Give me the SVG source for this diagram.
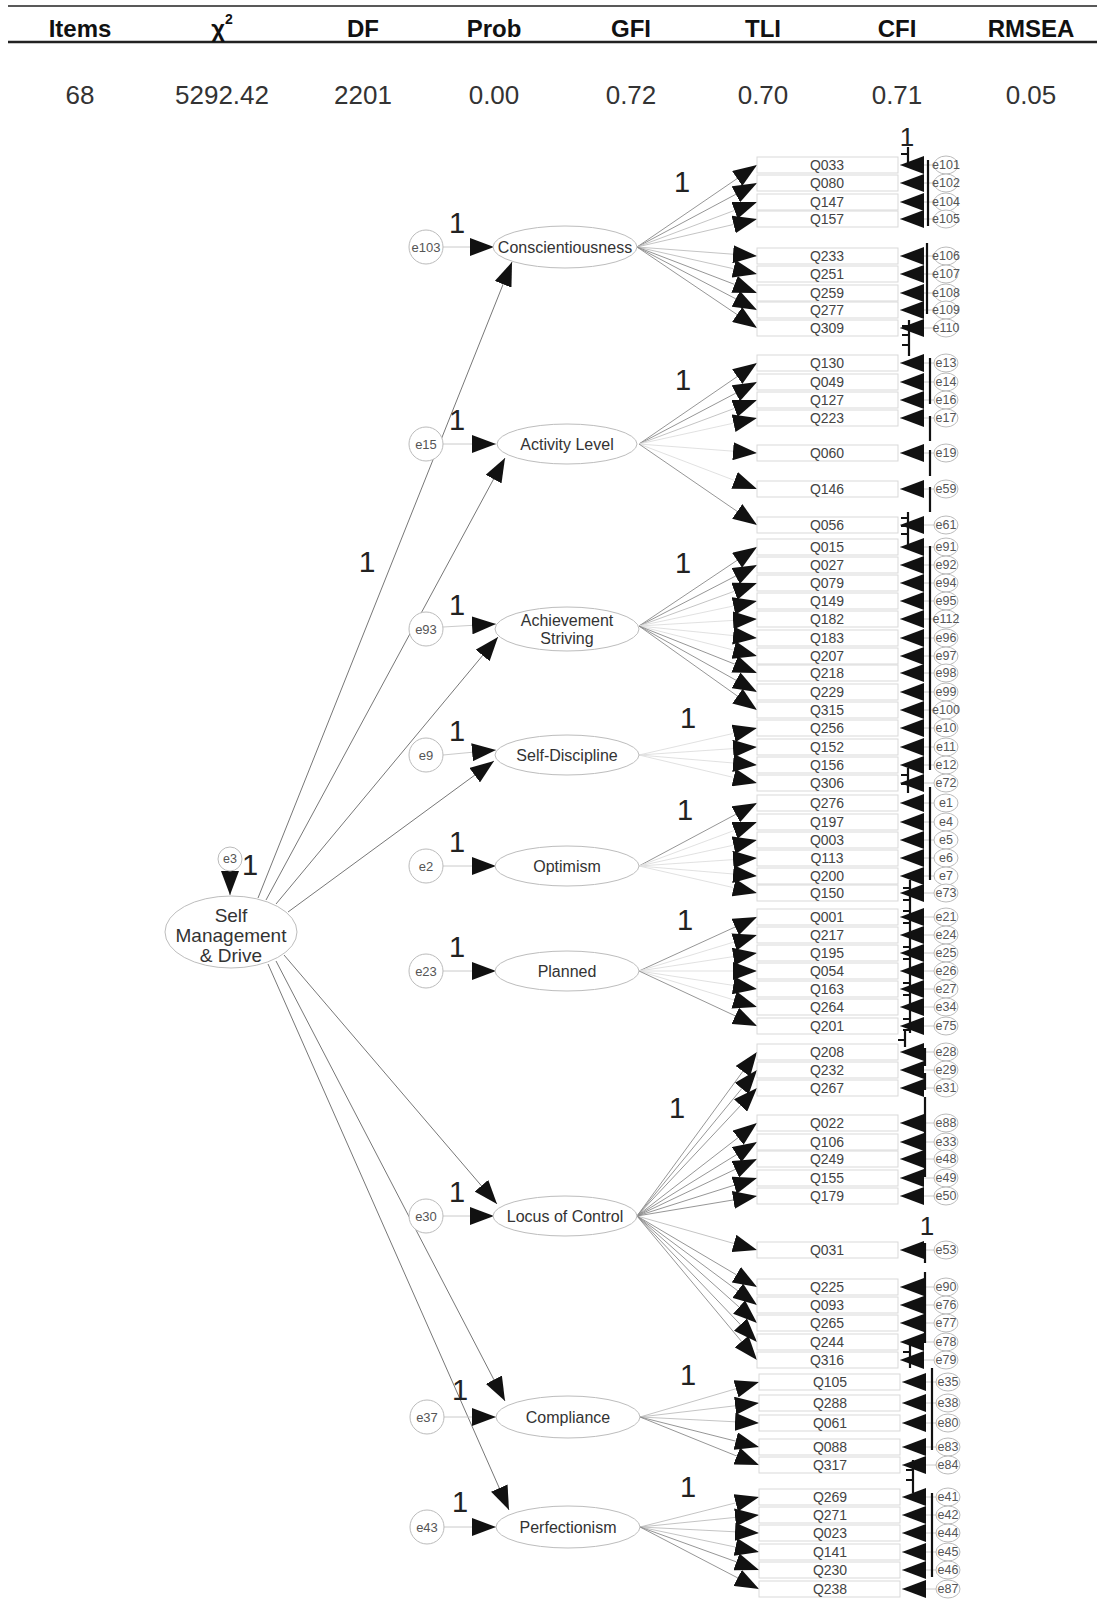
<svg xmlns="http://www.w3.org/2000/svg" width="1106" height="1619" viewBox="0 0 1106 1619">
<defs>
<style>
text{font-family:"Liberation Sans",Arial,sans-serif}
.hdr{font-weight:bold;font-size:24px;fill:#111;text-anchor:middle}
.val{font-size:26px;fill:#333;text-anchor:middle}
.q{font-size:14px;fill:#444;text-anchor:middle}
.el{font-size:12.5px;fill:#555;text-anchor:middle}
.fel{font-size:13px;fill:#555;text-anchor:middle}
.fl{font-size:16px;fill:#333;text-anchor:middle}
.one{font-size:29px;fill:#222;text-anchor:middle}
.obs rect{fill:none;stroke:#d9d9d9;stroke-width:1}
.lat ellipse{fill:#fff;stroke:#bdbdbd;stroke-width:1}
.err ellipse,.err circle{fill:#fff;stroke:#bbb;stroke-width:1}
.p{stroke:#777;stroke-width:1;fill:none}
.ld{stroke:#8a8a8a;stroke-width:0.9}
.lm{stroke:#bdbdbd;stroke-width:0.9}
.lf{stroke:#dedede;stroke-width:0.9}
.er{stroke:#c4c4c4;stroke-width:0.9}
.cov{stroke:#111;stroke-width:2.2;fill:none}
</style>
<marker id="ah" markerUnits="userSpaceOnUse" markerWidth="26" markerHeight="18" refX="24" refY="9" orient="auto"><path d="M0,0 L24,9 L0,18 z" fill="#111"/></marker>
<marker id="ahb" markerUnits="userSpaceOnUse" markerWidth="26" markerHeight="18" refX="24" refY="9" orient="auto"><path d="M0,0 L24,9 L0,18 z" fill="#111"/></marker>
</defs>
<rect width="1106" height="1619" fill="#fff"/>

<g id="fit-table">
<line x1="8" y1="6" x2="1097" y2="6" stroke="#222" stroke-width="1.6"/>
<line x1="8" y1="42" x2="1097" y2="42" stroke="#222" stroke-width="2.6"/>
<text class="hdr" x="80" y="37">Items</text>
<text class="hdr" x="222" y="37">χ<tspan font-size="14" dy="-13">2</tspan></text>
<text class="hdr" x="363" y="37">DF</text>
<text class="hdr" x="494" y="37">Prob</text>
<text class="hdr" x="631" y="37">GFI</text>
<text class="hdr" x="763" y="37">TLI</text>
<text class="hdr" x="897" y="37">CFI</text>
<text class="hdr" x="1031" y="37">RMSEA</text>
<text class="val" x="80" y="104">68</text>
<text class="val" x="222" y="104">5292.42</text>
<text class="val" x="363" y="104">2201</text>
<text class="val" x="494" y="104">0.00</text>
<text class="val" x="631" y="104">0.72</text>
<text class="val" x="763" y="104">0.70</text>
<text class="val" x="897" y="104">0.71</text>
<text class="val" x="1031" y="104">0.05</text>
</g>

<g id="connectors">
<!-- second-order paths -->
<line class="p" x1="258" y1="898" x2="512" y2="262" marker-end="url(#ahb)"/>
<line class="p" x1="266" y1="900" x2="505" y2="458" marker-end="url(#ahb)"/>
<line class="p" x1="276" y1="904" x2="498" y2="637" marker-end="url(#ahb)"/>
<line class="p" x1="288" y1="912" x2="494" y2="761" marker-end="url(#ahb)"/>
<line class="p" x1="284" y1="955" x2="497" y2="1204" marker-end="url(#ahb)"/>
<line class="p" x1="276" y1="961" x2="505" y2="1401" marker-end="url(#ahb)"/>
<line class="p" x1="268" y1="964" x2="509" y2="1510" marker-end="url(#ahb)"/>
<line class="p" x1="230" y1="871" x2="230" y2="895" marker-end="url(#ahb)"/>
<!-- disturbance paths -->
<line class="er" x1="443" y1="247" x2="494" y2="247" marker-end="url(#ahb)"/>
<line class="er" x1="443" y1="444" x2="496" y2="444" marker-end="url(#ahb)"/>
<line class="er" x1="443" y1="627" x2="496" y2="624" marker-end="url(#ahb)"/>
<line class="er" x1="443" y1="755" x2="496" y2="750" marker-end="url(#ahb)"/>
<line class="er" x1="443" y1="866" x2="496" y2="866" marker-end="url(#ahb)"/>
<line class="er" x1="443" y1="971" x2="496" y2="971" marker-end="url(#ahb)"/>
<line class="er" x1="443" y1="1216" x2="494" y2="1216" marker-end="url(#ahb)"/>
<line class="er" x1="444" y1="1417" x2="496" y2="1417" marker-end="url(#ahb)"/>
<line class="er" x1="444" y1="1527" x2="496" y2="1527" marker-end="url(#ahb)"/>
<!-- loadings: Conscientiousness -->
<line class="ld" x1="637" y1="247" x2="757" y2="165" marker-end="url(#ah)"/>
<line class="ld" x1="637" y1="247" x2="757" y2="183" marker-end="url(#ah)"/>
<line class="lm" x1="637" y1="247" x2="757" y2="202" marker-end="url(#ah)"/>
<line class="lm" x1="637" y1="247" x2="757" y2="219" marker-end="url(#ah)"/>
<line class="lm" x1="637" y1="247" x2="757" y2="256" marker-end="url(#ah)"/>
<line class="lm" x1="637" y1="247" x2="757" y2="274" marker-end="url(#ah)"/>
<line class="ld" x1="637" y1="247" x2="757" y2="293" marker-end="url(#ah)"/>
<line class="ld" x1="637" y1="247" x2="757" y2="310" marker-end="url(#ah)"/>
<line class="ld" x1="637" y1="247" x2="757" y2="328" marker-end="url(#ah)"/>
<!-- Activity Level -->
<line class="ld" x1="639" y1="444" x2="757" y2="363" marker-end="url(#ah)"/>
<line class="ld" x1="639" y1="444" x2="757" y2="382" marker-end="url(#ah)"/>
<line class="lm" x1="639" y1="444" x2="757" y2="400" marker-end="url(#ah)"/>
<line class="lf" x1="639" y1="444" x2="757" y2="418" marker-end="url(#ah)"/>
<line class="lf" x1="639" y1="444" x2="757" y2="453" marker-end="url(#ah)"/>
<line class="lf" x1="639" y1="444" x2="757" y2="489" marker-end="url(#ah)"/>
<line class="ld" x1="639" y1="444" x2="757" y2="525" marker-end="url(#ah)"/>
<!-- Achievement Striving -->
<line class="ld" x1="639" y1="626" x2="757" y2="547" marker-end="url(#ah)"/>
<line class="ld" x1="639" y1="626" x2="757" y2="565" marker-end="url(#ah)"/>
<line class="lm" x1="639" y1="626" x2="757" y2="583" marker-end="url(#ah)"/>
<line class="lf" x1="639" y1="626" x2="757" y2="601" marker-end="url(#ah)"/>
<line class="lf" x1="639" y1="626" x2="757" y2="619" marker-end="url(#ah)"/>
<line class="lf" x1="639" y1="626" x2="757" y2="638" marker-end="url(#ah)"/>
<line class="lf" x1="639" y1="626" x2="757" y2="656" marker-end="url(#ah)"/>
<line class="ld" x1="639" y1="626" x2="757" y2="673" marker-end="url(#ah)"/>
<line class="ld" x1="639" y1="626" x2="757" y2="692" marker-end="url(#ah)"/>
<line class="ld" x1="639" y1="626" x2="757" y2="710" marker-end="url(#ah)"/>
<!-- Self-Discipline -->
<line class="lf" x1="639" y1="755" x2="757" y2="728" marker-end="url(#ah)"/>
<line class="lf" x1="639" y1="755" x2="757" y2="747" marker-end="url(#ah)"/>
<line class="lf" x1="639" y1="755" x2="757" y2="765" marker-end="url(#ah)"/>
<line class="lf" x1="639" y1="755" x2="757" y2="783" marker-end="url(#ah)"/>
<!-- Optimism -->
<line class="ld" x1="639" y1="866" x2="757" y2="803" marker-end="url(#ah)"/>
<line class="lf" x1="639" y1="866" x2="757" y2="822" marker-end="url(#ah)"/>
<line class="lf" x1="639" y1="866" x2="757" y2="840" marker-end="url(#ah)"/>
<line class="lf" x1="639" y1="866" x2="757" y2="858" marker-end="url(#ah)"/>
<line class="lf" x1="639" y1="866" x2="757" y2="876" marker-end="url(#ah)"/>
<line class="lf" x1="639" y1="866" x2="757" y2="893" marker-end="url(#ah)"/>
<!-- Planned -->
<line class="ld" x1="639" y1="971" x2="757" y2="917" marker-end="url(#ah)"/>
<line class="lf" x1="639" y1="971" x2="757" y2="935" marker-end="url(#ah)"/>
<line class="lf" x1="639" y1="971" x2="757" y2="953" marker-end="url(#ah)"/>
<line class="lf" x1="639" y1="971" x2="757" y2="971" marker-end="url(#ah)"/>
<line class="lf" x1="639" y1="971" x2="757" y2="989" marker-end="url(#ah)"/>
<line class="lf" x1="639" y1="971" x2="757" y2="1007" marker-end="url(#ah)"/>
<line class="ld" x1="639" y1="971" x2="757" y2="1026" marker-end="url(#ah)"/>
<!-- Locus of Control -->
<line class="ld" x1="637" y1="1216" x2="757" y2="1052" marker-end="url(#ah)"/>
<line class="ld" x1="637" y1="1216" x2="757" y2="1070" marker-end="url(#ah)"/>
<line class="ld" x1="637" y1="1216" x2="757" y2="1088" marker-end="url(#ah)"/>
<line class="ld" x1="637" y1="1216" x2="757" y2="1123" marker-end="url(#ah)"/>
<line class="ld" x1="637" y1="1216" x2="757" y2="1142" marker-end="url(#ah)"/>
<line class="ld" x1="637" y1="1216" x2="757" y2="1159" marker-end="url(#ah)"/>
<line class="ld" x1="637" y1="1216" x2="757" y2="1178" marker-end="url(#ah)"/>
<line class="ld" x1="637" y1="1216" x2="757" y2="1196" marker-end="url(#ah)"/>
<line class="lm" x1="637" y1="1216" x2="757" y2="1250" marker-end="url(#ah)"/>
<line class="ld" x1="637" y1="1216" x2="757" y2="1287" marker-end="url(#ah)"/>
<line class="ld" x1="637" y1="1216" x2="757" y2="1305" marker-end="url(#ah)"/>
<line class="ld" x1="637" y1="1216" x2="757" y2="1323" marker-end="url(#ah)"/>
<line class="ld" x1="637" y1="1216" x2="757" y2="1342" marker-end="url(#ah)"/>
<line class="ld" x1="637" y1="1216" x2="757" y2="1360" marker-end="url(#ah)"/>
<!-- Compliance -->
<line class="lm" x1="640" y1="1417" x2="759" y2="1382" marker-end="url(#ah)"/>
<line class="lm" x1="640" y1="1417" x2="759" y2="1403" marker-end="url(#ah)"/>
<line class="lm" x1="640" y1="1417" x2="759" y2="1423" marker-end="url(#ah)"/>
<line class="ld" x1="640" y1="1417" x2="759" y2="1447" marker-end="url(#ah)"/>
<line class="ld" x1="640" y1="1417" x2="759" y2="1465" marker-end="url(#ah)"/>
<!-- Perfectionism -->
<line class="lm" x1="640" y1="1527" x2="759" y2="1497" marker-end="url(#ah)"/>
<line class="lm" x1="640" y1="1527" x2="759" y2="1515" marker-end="url(#ah)"/>
<line class="lm" x1="640" y1="1527" x2="759" y2="1533" marker-end="url(#ah)"/>
<line class="lm" x1="640" y1="1527" x2="759" y2="1552" marker-end="url(#ah)"/>
<line class="ld" x1="640" y1="1527" x2="759" y2="1570" marker-end="url(#ah)"/>
<line class="ld" x1="640" y1="1527" x2="759" y2="1589" marker-end="url(#ah)"/>
<!-- measurement error paths -->
<g class="er" marker-end="url(#ah)">
<line x1="934" y1="165" x2="900" y2="165"/><line x1="934" y1="183" x2="900" y2="183"/><line x1="934" y1="202" x2="900" y2="202"/><line x1="934" y1="219" x2="900" y2="219"/><line x1="934" y1="256" x2="900" y2="256"/><line x1="934" y1="274" x2="900" y2="274"/><line x1="934" y1="293" x2="900" y2="293"/><line x1="934" y1="310" x2="900" y2="310"/><line x1="934" y1="328" x2="900" y2="328"/>
<line x1="934" y1="363" x2="900" y2="363"/><line x1="934" y1="382" x2="900" y2="382"/><line x1="934" y1="400" x2="900" y2="400"/><line x1="934" y1="418" x2="900" y2="418"/><line x1="934" y1="453" x2="900" y2="453"/><line x1="934" y1="489" x2="900" y2="489"/><line x1="934" y1="525" x2="900" y2="525"/>
<line x1="934" y1="547" x2="900" y2="547"/><line x1="934" y1="565" x2="900" y2="565"/><line x1="934" y1="583" x2="900" y2="583"/><line x1="934" y1="601" x2="900" y2="601"/><line x1="934" y1="619" x2="900" y2="619"/><line x1="934" y1="638" x2="900" y2="638"/><line x1="934" y1="656" x2="900" y2="656"/><line x1="934" y1="673" x2="900" y2="673"/><line x1="934" y1="692" x2="900" y2="692"/><line x1="934" y1="710" x2="900" y2="710"/>
<line x1="934" y1="728" x2="900" y2="728"/><line x1="934" y1="747" x2="900" y2="747"/><line x1="934" y1="765" x2="900" y2="765"/><line x1="934" y1="783" x2="900" y2="783"/>
<line x1="934" y1="803" x2="900" y2="803"/><line x1="934" y1="822" x2="900" y2="822"/><line x1="934" y1="840" x2="900" y2="840"/><line x1="934" y1="858" x2="900" y2="858"/><line x1="934" y1="876" x2="900" y2="876"/><line x1="934" y1="893" x2="900" y2="893"/>
<line x1="934" y1="917" x2="900" y2="917"/><line x1="934" y1="935" x2="900" y2="935"/><line x1="934" y1="953" x2="900" y2="953"/><line x1="934" y1="971" x2="900" y2="971"/><line x1="934" y1="989" x2="900" y2="989"/><line x1="934" y1="1007" x2="900" y2="1007"/><line x1="934" y1="1026" x2="900" y2="1026"/>
<line x1="934" y1="1052" x2="900" y2="1052"/><line x1="934" y1="1070" x2="900" y2="1070"/><line x1="934" y1="1088" x2="900" y2="1088"/><line x1="934" y1="1123" x2="900" y2="1123"/><line x1="934" y1="1142" x2="900" y2="1142"/><line x1="934" y1="1159" x2="900" y2="1159"/><line x1="934" y1="1178" x2="900" y2="1178"/><line x1="934" y1="1196" x2="900" y2="1196"/><line x1="934" y1="1250" x2="900" y2="1250"/><line x1="934" y1="1287" x2="900" y2="1287"/><line x1="934" y1="1305" x2="900" y2="1305"/><line x1="934" y1="1323" x2="900" y2="1323"/><line x1="934" y1="1342" x2="900" y2="1342"/><line x1="934" y1="1360" x2="900" y2="1360"/>
<line x1="936" y1="1382" x2="902" y2="1382"/><line x1="936" y1="1403" x2="902" y2="1403"/><line x1="936" y1="1423" x2="902" y2="1423"/><line x1="936" y1="1447" x2="902" y2="1447"/><line x1="936" y1="1465" x2="902" y2="1465"/>
<line x1="936" y1="1497" x2="902" y2="1497"/><line x1="936" y1="1515" x2="902" y2="1515"/><line x1="936" y1="1533" x2="902" y2="1533"/><line x1="936" y1="1552" x2="902" y2="1552"/><line x1="936" y1="1570" x2="902" y2="1570"/><line x1="936" y1="1589" x2="902" y2="1589"/>
</g>
<!-- error covariances (collapsed) -->
<path class="cov" d="M908,147V163 M901,154H908 M928,160V226 M927,243V314 M909,320V356 M902,326H909 M902,335H909 M902,345H909 M930,358V404 M930,416V441 M930,450V476 M930,487V512 M908,512V545 M901,518H908 M901,526H908 M901,534H908 M930,546V770 M908,768V793 M901,775H908 M901,784H908 M930,787V880 M910,880V1033 M903,888H910 M903,900H910 M903,911H910 M903,923H910 M903,935H910 M903,947H910 M903,959H910 M903,971H910 M903,983H910 M903,995H910 M903,1007H910 M903,1019H910 M903,1030H910 M905,1030V1047 M898,1040H905 M925,1048V1066 M925,1073V1090 M925,1097V1177 M925,1243V1263 M925,1272V1343 M910,1345V1368 M903,1352H910 M903,1360H910 M932,1368V1450 M913,1460V1493 M906,1470H913 M906,1480H913 M932,1493V1577"/>
</g>

<g id="SMD" class="lat">
<ellipse cx="231" cy="932" rx="66" ry="36" stroke="#aaa"/>
<text class="fl" style="font-size:19px" x="231" y="922">Self</text>
<text class="fl" style="font-size:19px" x="231" y="942">Management</text>
<text class="fl" style="font-size:19px" x="231" y="962">&amp; Drive</text>
</g>
<g id="e3" class="err"><circle cx="230" cy="859" r="12"/><text class="el" x="230" y="863">e3</text></g>

<g id="Conscientiousness" class="lat"><ellipse cx="565" cy="247" rx="72" ry="21"/><text class="fl" x="565" y="253">Conscientiousness</text></g>
<g id="ActivityLevel" class="lat"><ellipse cx="567" cy="444" rx="70" ry="20"/><text class="fl" x="567" y="450">Activity Level</text></g>
<g id="AchievementStriving" class="lat"><ellipse cx="567" cy="629" rx="72" ry="22"/><text class="fl" x="567" y="626">Achievement</text><text class="fl" x="567" y="644">Striving</text></g>
<g id="SelfDiscipline" class="lat"><ellipse cx="567" cy="755" rx="72" ry="20"/><text class="fl" x="567" y="761">Self-Discipline</text></g>
<g id="Optimism" class="lat"><ellipse cx="567" cy="866" rx="72" ry="20"/><text class="fl" x="567" y="872">Optimism</text></g>
<g id="Planned" class="lat"><ellipse cx="567" cy="971" rx="72" ry="20"/><text class="fl" x="567" y="977">Planned</text></g>
<g id="LocusOfControl" class="lat"><ellipse cx="565" cy="1216" rx="72" ry="20"/><text class="fl" x="565" y="1222">Locus of Control</text></g>
<g id="Compliance" class="lat"><ellipse cx="568" cy="1417" rx="72" ry="21"/><text class="fl" x="568" y="1423">Compliance</text></g>
<g id="Perfectionism" class="lat"><ellipse cx="568" cy="1527" rx="72" ry="21"/><text class="fl" x="568" y="1533">Perfectionism</text></g>

<g id="e103" class="err"><circle cx="426" cy="247" r="17"/><text class="fel" x="426" y="252">e103</text></g>
<g id="e15" class="err"><circle cx="426" cy="444" r="17"/><text class="fel" x="426" y="449">e15</text></g>
<g id="e93" class="err"><circle cx="426" cy="629" r="17"/><text class="fel" x="426" y="634">e93</text></g>
<g id="e9" class="err"><circle cx="426" cy="755" r="17"/><text class="fel" x="426" y="760">e9</text></g>
<g id="e2" class="err"><circle cx="426" cy="866" r="17"/><text class="fel" x="426" y="871">e2</text></g>
<g id="e23" class="err"><circle cx="426" cy="971" r="17"/><text class="fel" x="426" y="976">e23</text></g>
<g id="e30" class="err"><circle cx="426" cy="1216" r="17"/><text class="fel" x="426" y="1221">e30</text></g>
<g id="e37" class="err"><circle cx="427" cy="1417" r="17"/><text class="fel" x="427" y="1422">e37</text></g>
<g id="e43" class="err"><circle cx="427" cy="1527" r="17"/><text class="fel" x="427" y="1532">e43</text></g>

<g id="observed" class="obs">
<g id="Q033"><rect x="757" y="157" width="141" height="16"/><text class="q" x="827" y="170">Q033</text></g>
<g id="Q080"><rect x="757" y="175" width="141" height="16"/><text class="q" x="827" y="188">Q080</text></g>
<g id="Q147"><rect x="757" y="194" width="141" height="16"/><text class="q" x="827" y="207">Q147</text></g>
<g id="Q157"><rect x="757" y="211" width="141" height="16"/><text class="q" x="827" y="224">Q157</text></g>
<g id="Q233"><rect x="757" y="248" width="141" height="16"/><text class="q" x="827" y="261">Q233</text></g>
<g id="Q251"><rect x="757" y="266" width="141" height="16"/><text class="q" x="827" y="279">Q251</text></g>
<g id="Q259"><rect x="757" y="285" width="141" height="16"/><text class="q" x="827" y="298">Q259</text></g>
<g id="Q277"><rect x="757" y="302" width="141" height="16"/><text class="q" x="827" y="315">Q277</text></g>
<g id="Q309"><rect x="757" y="320" width="141" height="16"/><text class="q" x="827" y="333">Q309</text></g>
<g id="Q130"><rect x="757" y="355" width="141" height="16"/><text class="q" x="827" y="368">Q130</text></g>
<g id="Q049"><rect x="757" y="374" width="141" height="16"/><text class="q" x="827" y="387">Q049</text></g>
<g id="Q127"><rect x="757" y="392" width="141" height="16"/><text class="q" x="827" y="405">Q127</text></g>
<g id="Q223"><rect x="757" y="410" width="141" height="16"/><text class="q" x="827" y="423">Q223</text></g>
<g id="Q060"><rect x="757" y="445" width="141" height="16"/><text class="q" x="827" y="458">Q060</text></g>
<g id="Q146"><rect x="757" y="481" width="141" height="16"/><text class="q" x="827" y="494">Q146</text></g>
<g id="Q056"><rect x="757" y="517" width="141" height="16"/><text class="q" x="827" y="530">Q056</text></g>
<g id="Q015"><rect x="757" y="539" width="141" height="16"/><text class="q" x="827" y="552">Q015</text></g>
<g id="Q027"><rect x="757" y="557" width="141" height="16"/><text class="q" x="827" y="570">Q027</text></g>
<g id="Q079"><rect x="757" y="575" width="141" height="16"/><text class="q" x="827" y="588">Q079</text></g>
<g id="Q149"><rect x="757" y="593" width="141" height="16"/><text class="q" x="827" y="606">Q149</text></g>
<g id="Q182"><rect x="757" y="611" width="141" height="16"/><text class="q" x="827" y="624">Q182</text></g>
<g id="Q183"><rect x="757" y="630" width="141" height="16"/><text class="q" x="827" y="643">Q183</text></g>
<g id="Q207"><rect x="757" y="648" width="141" height="16"/><text class="q" x="827" y="661">Q207</text></g>
<g id="Q218"><rect x="757" y="665" width="141" height="16"/><text class="q" x="827" y="678">Q218</text></g>
<g id="Q229"><rect x="757" y="684" width="141" height="16"/><text class="q" x="827" y="697">Q229</text></g>
<g id="Q315"><rect x="757" y="702" width="141" height="16"/><text class="q" x="827" y="715">Q315</text></g>
<g id="Q256"><rect x="757" y="720" width="141" height="16"/><text class="q" x="827" y="733">Q256</text></g>
<g id="Q152"><rect x="757" y="739" width="141" height="16"/><text class="q" x="827" y="752">Q152</text></g>
<g id="Q156"><rect x="757" y="757" width="141" height="16"/><text class="q" x="827" y="770">Q156</text></g>
<g id="Q306"><rect x="757" y="775" width="141" height="16"/><text class="q" x="827" y="788">Q306</text></g>
<g id="Q276"><rect x="757" y="795" width="141" height="16"/><text class="q" x="827" y="808">Q276</text></g>
<g id="Q197"><rect x="757" y="814" width="141" height="16"/><text class="q" x="827" y="827">Q197</text></g>
<g id="Q003"><rect x="757" y="832" width="141" height="16"/><text class="q" x="827" y="845">Q003</text></g>
<g id="Q113"><rect x="757" y="850" width="141" height="16"/><text class="q" x="827" y="863">Q113</text></g>
<g id="Q200"><rect x="757" y="868" width="141" height="16"/><text class="q" x="827" y="881">Q200</text></g>
<g id="Q150"><rect x="757" y="885" width="141" height="16"/><text class="q" x="827" y="898">Q150</text></g>
<g id="Q001"><rect x="757" y="909" width="141" height="16"/><text class="q" x="827" y="922">Q001</text></g>
<g id="Q217"><rect x="757" y="927" width="141" height="16"/><text class="q" x="827" y="940">Q217</text></g>
<g id="Q195"><rect x="757" y="945" width="141" height="16"/><text class="q" x="827" y="958">Q195</text></g>
<g id="Q054"><rect x="757" y="963" width="141" height="16"/><text class="q" x="827" y="976">Q054</text></g>
<g id="Q163"><rect x="757" y="981" width="141" height="16"/><text class="q" x="827" y="994">Q163</text></g>
<g id="Q264"><rect x="757" y="999" width="141" height="16"/><text class="q" x="827" y="1012">Q264</text></g>
<g id="Q201"><rect x="757" y="1018" width="141" height="16"/><text class="q" x="827" y="1031">Q201</text></g>
<g id="Q208"><rect x="757" y="1044" width="141" height="16"/><text class="q" x="827" y="1057">Q208</text></g>
<g id="Q232"><rect x="757" y="1062" width="141" height="16"/><text class="q" x="827" y="1075">Q232</text></g>
<g id="Q267"><rect x="757" y="1080" width="141" height="16"/><text class="q" x="827" y="1093">Q267</text></g>
<g id="Q022"><rect x="757" y="1115" width="141" height="16"/><text class="q" x="827" y="1128">Q022</text></g>
<g id="Q106"><rect x="757" y="1134" width="141" height="16"/><text class="q" x="827" y="1147">Q106</text></g>
<g id="Q249"><rect x="757" y="1151" width="141" height="16"/><text class="q" x="827" y="1164">Q249</text></g>
<g id="Q155"><rect x="757" y="1170" width="141" height="16"/><text class="q" x="827" y="1183">Q155</text></g>
<g id="Q179"><rect x="757" y="1188" width="141" height="16"/><text class="q" x="827" y="1201">Q179</text></g>
<g id="Q031"><rect x="757" y="1242" width="141" height="16"/><text class="q" x="827" y="1255">Q031</text></g>
<g id="Q225"><rect x="757" y="1279" width="141" height="16"/><text class="q" x="827" y="1292">Q225</text></g>
<g id="Q093"><rect x="757" y="1297" width="141" height="16"/><text class="q" x="827" y="1310">Q093</text></g>
<g id="Q265"><rect x="757" y="1315" width="141" height="16"/><text class="q" x="827" y="1328">Q265</text></g>
<g id="Q244"><rect x="757" y="1334" width="141" height="16"/><text class="q" x="827" y="1347">Q244</text></g>
<g id="Q316"><rect x="757" y="1352" width="141" height="16"/><text class="q" x="827" y="1365">Q316</text></g>
<g id="Q105"><rect x="759" y="1374" width="141" height="16"/><text class="q" x="830" y="1387">Q105</text></g>
<g id="Q288"><rect x="759" y="1395" width="141" height="16"/><text class="q" x="830" y="1408">Q288</text></g>
<g id="Q061"><rect x="759" y="1415" width="141" height="16"/><text class="q" x="830" y="1428">Q061</text></g>
<g id="Q088"><rect x="759" y="1439" width="141" height="16"/><text class="q" x="830" y="1452">Q088</text></g>
<g id="Q317"><rect x="759" y="1457" width="141" height="16"/><text class="q" x="830" y="1470">Q317</text></g>
<g id="Q269"><rect x="759" y="1489" width="141" height="16"/><text class="q" x="830" y="1502">Q269</text></g>
<g id="Q271"><rect x="759" y="1507" width="141" height="16"/><text class="q" x="830" y="1520">Q271</text></g>
<g id="Q023"><rect x="759" y="1525" width="141" height="16"/><text class="q" x="830" y="1538">Q023</text></g>
<g id="Q141"><rect x="759" y="1544" width="141" height="16"/><text class="q" x="830" y="1557">Q141</text></g>
<g id="Q230"><rect x="759" y="1562" width="141" height="16"/><text class="q" x="830" y="1575">Q230</text></g>
<g id="Q238"><rect x="759" y="1581" width="141" height="16"/><text class="q" x="830" y="1594">Q238</text></g>
</g>

<g id="errors" class="err">
<g id="e101"><ellipse cx="946" cy="165" rx="12" ry="9"/><text class="el" x="946" y="169">e101</text></g>
<g id="e102"><ellipse cx="946" cy="183" rx="12" ry="9"/><text class="el" x="946" y="187">e102</text></g>
<g id="e104"><ellipse cx="946" cy="202" rx="12" ry="9"/><text class="el" x="946" y="206">e104</text></g>
<g id="e105"><ellipse cx="946" cy="219" rx="12" ry="9"/><text class="el" x="946" y="223">e105</text></g>
<g id="e106"><ellipse cx="946" cy="256" rx="12" ry="9"/><text class="el" x="946" y="260">e106</text></g>
<g id="e107"><ellipse cx="946" cy="274" rx="12" ry="9"/><text class="el" x="946" y="278">e107</text></g>
<g id="e108"><ellipse cx="946" cy="293" rx="12" ry="9"/><text class="el" x="946" y="297">e108</text></g>
<g id="e109"><ellipse cx="946" cy="310" rx="12" ry="9"/><text class="el" x="946" y="314">e109</text></g>
<g id="e110"><ellipse cx="946" cy="328" rx="12" ry="9"/><text class="el" x="946" y="332">e110</text></g>
<g id="e13"><ellipse cx="946" cy="363" rx="12" ry="9"/><text class="el" x="946" y="367">e13</text></g>
<g id="e14"><ellipse cx="946" cy="382" rx="12" ry="9"/><text class="el" x="946" y="386">e14</text></g>
<g id="e16"><ellipse cx="946" cy="400" rx="12" ry="9"/><text class="el" x="946" y="404">e16</text></g>
<g id="e17"><ellipse cx="946" cy="418" rx="12" ry="9"/><text class="el" x="946" y="422">e17</text></g>
<g id="e19"><ellipse cx="946" cy="453" rx="12" ry="9"/><text class="el" x="946" y="457">e19</text></g>
<g id="e59"><ellipse cx="946" cy="489" rx="12" ry="9"/><text class="el" x="946" y="493">e59</text></g>
<g id="e61"><ellipse cx="946" cy="525" rx="12" ry="9"/><text class="el" x="946" y="529">e61</text></g>
<g id="e91"><ellipse cx="946" cy="547" rx="12" ry="9"/><text class="el" x="946" y="551">e91</text></g>
<g id="e92"><ellipse cx="946" cy="565" rx="12" ry="9"/><text class="el" x="946" y="569">e92</text></g>
<g id="e94"><ellipse cx="946" cy="583" rx="12" ry="9"/><text class="el" x="946" y="587">e94</text></g>
<g id="e95"><ellipse cx="946" cy="601" rx="12" ry="9"/><text class="el" x="946" y="605">e95</text></g>
<g id="e112"><ellipse cx="946" cy="619" rx="12" ry="9"/><text class="el" x="946" y="623">e112</text></g>
<g id="e96"><ellipse cx="946" cy="638" rx="12" ry="9"/><text class="el" x="946" y="642">e96</text></g>
<g id="e97"><ellipse cx="946" cy="656" rx="12" ry="9"/><text class="el" x="946" y="660">e97</text></g>
<g id="e98"><ellipse cx="946" cy="673" rx="12" ry="9"/><text class="el" x="946" y="677">e98</text></g>
<g id="e99"><ellipse cx="946" cy="692" rx="12" ry="9"/><text class="el" x="946" y="696">e99</text></g>
<g id="e100"><ellipse cx="946" cy="710" rx="12" ry="9"/><text class="el" x="946" y="714">e100</text></g>
<g id="e10"><ellipse cx="946" cy="728" rx="12" ry="9"/><text class="el" x="946" y="732">e10</text></g>
<g id="e11"><ellipse cx="946" cy="747" rx="12" ry="9"/><text class="el" x="946" y="751">e11</text></g>
<g id="e12"><ellipse cx="946" cy="765" rx="12" ry="9"/><text class="el" x="946" y="769">e12</text></g>
<g id="e72"><ellipse cx="946" cy="783" rx="12" ry="9"/><text class="el" x="946" y="787">e72</text></g>
<g id="e1"><ellipse cx="946" cy="803" rx="12" ry="9"/><text class="el" x="946" y="807">e1</text></g>
<g id="e4"><ellipse cx="946" cy="822" rx="12" ry="9"/><text class="el" x="946" y="826">e4</text></g>
<g id="e5"><ellipse cx="946" cy="840" rx="12" ry="9"/><text class="el" x="946" y="844">e5</text></g>
<g id="e6"><ellipse cx="946" cy="858" rx="12" ry="9"/><text class="el" x="946" y="862">e6</text></g>
<g id="e7"><ellipse cx="946" cy="876" rx="12" ry="9"/><text class="el" x="946" y="880">e7</text></g>
<g id="e73"><ellipse cx="946" cy="893" rx="12" ry="9"/><text class="el" x="946" y="897">e73</text></g>
<g id="e21"><ellipse cx="946" cy="917" rx="12" ry="9"/><text class="el" x="946" y="921">e21</text></g>
<g id="e24"><ellipse cx="946" cy="935" rx="12" ry="9"/><text class="el" x="946" y="939">e24</text></g>
<g id="e25"><ellipse cx="946" cy="953" rx="12" ry="9"/><text class="el" x="946" y="957">e25</text></g>
<g id="e26"><ellipse cx="946" cy="971" rx="12" ry="9"/><text class="el" x="946" y="975">e26</text></g>
<g id="e27"><ellipse cx="946" cy="989" rx="12" ry="9"/><text class="el" x="946" y="993">e27</text></g>
<g id="e34"><ellipse cx="946" cy="1007" rx="12" ry="9"/><text class="el" x="946" y="1011">e34</text></g>
<g id="e75"><ellipse cx="946" cy="1026" rx="12" ry="9"/><text class="el" x="946" y="1030">e75</text></g>
<g id="e28"><ellipse cx="946" cy="1052" rx="12" ry="9"/><text class="el" x="946" y="1056">e28</text></g>
<g id="e29"><ellipse cx="946" cy="1070" rx="12" ry="9"/><text class="el" x="946" y="1074">e29</text></g>
<g id="e31"><ellipse cx="946" cy="1088" rx="12" ry="9"/><text class="el" x="946" y="1092">e31</text></g>
<g id="e88"><ellipse cx="946" cy="1123" rx="12" ry="9"/><text class="el" x="946" y="1127">e88</text></g>
<g id="e33"><ellipse cx="946" cy="1142" rx="12" ry="9"/><text class="el" x="946" y="1146">e33</text></g>
<g id="e48"><ellipse cx="946" cy="1159" rx="12" ry="9"/><text class="el" x="946" y="1163">e48</text></g>
<g id="e49"><ellipse cx="946" cy="1178" rx="12" ry="9"/><text class="el" x="946" y="1182">e49</text></g>
<g id="e50"><ellipse cx="946" cy="1196" rx="12" ry="9"/><text class="el" x="946" y="1200">e50</text></g>
<g id="e53"><ellipse cx="946" cy="1250" rx="12" ry="9"/><text class="el" x="946" y="1254">e53</text></g>
<g id="e90"><ellipse cx="946" cy="1287" rx="12" ry="9"/><text class="el" x="946" y="1291">e90</text></g>
<g id="e76"><ellipse cx="946" cy="1305" rx="12" ry="9"/><text class="el" x="946" y="1309">e76</text></g>
<g id="e77"><ellipse cx="946" cy="1323" rx="12" ry="9"/><text class="el" x="946" y="1327">e77</text></g>
<g id="e78"><ellipse cx="946" cy="1342" rx="12" ry="9"/><text class="el" x="946" y="1346">e78</text></g>
<g id="e79"><ellipse cx="946" cy="1360" rx="12" ry="9"/><text class="el" x="946" y="1364">e79</text></g>
<g id="e35"><ellipse cx="948" cy="1382" rx="12" ry="9"/><text class="el" x="948" y="1386">e35</text></g>
<g id="e38"><ellipse cx="948" cy="1403" rx="12" ry="9"/><text class="el" x="948" y="1407">e38</text></g>
<g id="e80"><ellipse cx="948" cy="1423" rx="12" ry="9"/><text class="el" x="948" y="1427">e80</text></g>
<g id="e83"><ellipse cx="948" cy="1447" rx="12" ry="9"/><text class="el" x="948" y="1451">e83</text></g>
<g id="e84"><ellipse cx="948" cy="1465" rx="12" ry="9"/><text class="el" x="948" y="1469">e84</text></g>
<g id="e41"><ellipse cx="948" cy="1497" rx="12" ry="9"/><text class="el" x="948" y="1501">e41</text></g>
<g id="e42"><ellipse cx="948" cy="1515" rx="12" ry="9"/><text class="el" x="948" y="1519">e42</text></g>
<g id="e44"><ellipse cx="948" cy="1533" rx="12" ry="9"/><text class="el" x="948" y="1537">e44</text></g>
<g id="e45"><ellipse cx="948" cy="1552" rx="12" ry="9"/><text class="el" x="948" y="1556">e45</text></g>
<g id="e46"><ellipse cx="948" cy="1570" rx="12" ry="9"/><text class="el" x="948" y="1574">e46</text></g>
<g id="e87"><ellipse cx="948" cy="1589" rx="12" ry="9"/><text class="el" x="948" y="1593">e87</text></g>
</g>

<g id="fixed-weights">
<text class="one" x="250" y="875">1</text>
<text class="one" x="367" y="572" style="font-size:30px">1</text>
<text class="one" x="457" y="233">1</text>
<text class="one" x="457" y="430">1</text>
<text class="one" x="457" y="615">1</text>
<text class="one" x="457" y="741">1</text>
<text class="one" x="457" y="852">1</text>
<text class="one" x="457" y="957">1</text>
<text class="one" x="457" y="1202">1</text>
<text class="one" x="460" y="1400">1</text>
<text class="one" x="460" y="1512">1</text>
<text class="one" x="682" y="192">1</text>
<text class="one" x="683" y="390">1</text>
<text class="one" x="683" y="573">1</text>
<text class="one" x="688" y="728">1</text>
<text class="one" x="685" y="820">1</text>
<text class="one" x="685" y="930">1</text>
<text class="one" x="677" y="1118">1</text>
<text class="one" x="688" y="1385">1</text>
<text class="one" x="688" y="1497">1</text>
<text class="one" x="907" y="146" style="font-size:26px">1</text>
<text class="one" x="927" y="1235" style="font-size:26px">1</text>
</g>
</svg>
